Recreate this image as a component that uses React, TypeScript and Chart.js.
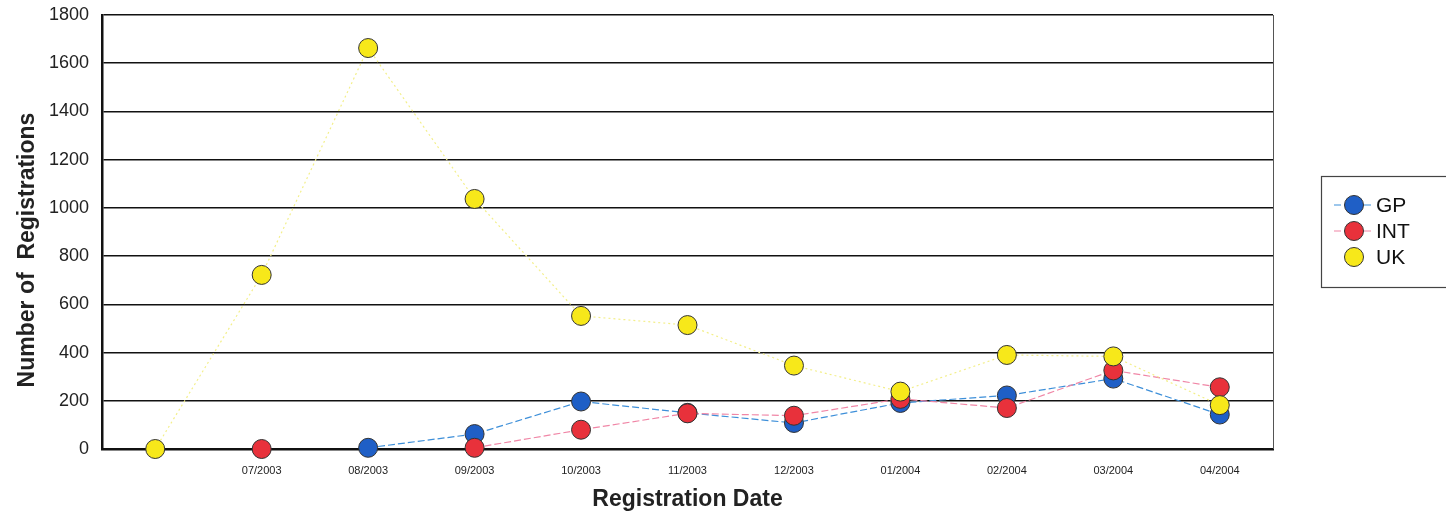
import React, { useEffect, useRef } from "react";
import { Chart, registerables } from "chart.js";

Chart.register(...registerables);

const categories = ["", "07/2003", "08/2003", "09/2003", "10/2003", "11/2003", "12/2003", "01/2004", "02/2004", "03/2004", "04/2004"];
const gpValues = [null, null, 5, 62, 197, 150, 108, 191, 222, 292, 143];
const intValues = [null, 0, null, 5, 80, 148, 138, 208, 170, 326, 256];
const ukValues = [0, 722, 1663, 1037, 552, 514, 346, 238, 390, 384, 182];
const yTicks = [0, 200, 400, 600, 800, 1000, 1200, 1400, 1600, 1800];
const yTitle = "Number of  Registrations";
const xTitle = "Registration Date";

const FONT = 'Arial, "Liberation Sans", sans-serif';

const legendBox = {
  id: "legendBox",
  afterDraw(chart: any) {
    const ctx = chart.ctx;
    const area = chart.chartArea;
    const left = area.right + 48;
    const top = area.top + 161;
    const w = chart.width - left + 2;
    const h = 111;
    ctx.save();
    ctx.strokeStyle = "#444";
    ctx.lineWidth = 1.2;
    ctx.strokeRect(left + 0.5, top + 0.5, w, h);
    const cx = left + 33;
    chart.data.datasets.forEach((ds: any, i: number) => {
      const cy = top + 29 + i * 26;
      if (ds.showLegendLine) {
        ctx.beginPath();
        ctx.strokeStyle = ds.borderColor;
        ctx.lineWidth = 1.2;
        ctx.setLineDash(ds.borderDash || []);
        ctx.moveTo(cx - 20, cy);
        ctx.lineTo(cx + 20, cy);
        ctx.stroke();
        ctx.setLineDash([]);
      }
      ctx.beginPath();
      ctx.arc(cx, cy, 9.5, 0, Math.PI * 2);
      ctx.fillStyle = ds.pointBackgroundColor;
      ctx.fill();
      ctx.strokeStyle = "#333";
      ctx.lineWidth = 1;
      ctx.stroke();
      ctx.fillStyle = "#111";
      ctx.font = "21px " + FONT;
      ctx.textBaseline = "middle";
      ctx.textAlign = "left";
      ctx.fillText(ds.label, cx + 22, cy + 1);
    });
    // right border of plot
    ctx.strokeStyle = "#555";
    ctx.lineWidth = 1;
    ctx.beginPath();
    ctx.moveTo(area.right + 0.5, area.top);
    ctx.lineTo(area.right + 0.5, area.bottom);
    ctx.stroke();
    // y axis title
    ctx.save();
    ctx.translate(28, (area.top + area.bottom) / 2 + 18);
    ctx.rotate(-Math.PI / 2);
    ctx.font = "bold 23px " + FONT;
    ctx.fillStyle = "#222";
    ctx.textAlign = "center";
    ctx.textBaseline = "middle";
    ctx.fillText(yTitle, 0, 0);
    ctx.restore();
    ctx.restore();
  },
};

export default function App() {
  const ref = useRef<HTMLCanvasElement>(null);
  useEffect(() => {
    const common = {
      borderWidth: 1.2,
      pointRadius: 9.5,
      pointBorderColor: "#333",
      pointBorderWidth: 1,
      clip: false,
    };
    const c = new Chart(ref.current!, {
      type: "line",
      data: {
        labels: categories,
        datasets: [
          {
            ...common,
            label: "GP",
            data: gpValues,
            borderColor: "#3d8fd9",
            borderDash: [7, 3],
            pointBackgroundColor: "#1f5fc6",
            order: 3,
            showLegendLine: true,
          } as any,
          {
            ...common,
            label: "INT",
            data: intValues,
            borderColor: "#f086a6",
            borderDash: [7, 3],
            pointBackgroundColor: "#e8313b",
            order: 2,
            showLegendLine: true,
          } as any,
          {
            ...common,
            label: "UK",
            data: ukValues,
            borderColor: "#f3ef8a",
            borderDash: [2, 3],
            pointBackgroundColor: "#f7e81a",
            order: 1,
            showLegendLine: false,
          } as any,
        ],
      },
      options: {
        responsive: false,
        animation: false,
        spanGaps: false,
        layout: { padding: { left: 0, top: 15, right: 173, bottom: 0 } },
        plugins: { legend: { display: false }, tooltip: { enabled: false } },
        scales: {
          x: {
            offset: true,
            grid: { display: false, drawTicks: false },
            border: { display: true, color: "#111", width: 2.5 },
            ticks: { font: { size: 11, family: FONT }, color: "#222", padding: 15, maxRotation: 0, autoSkip: false },
            title: { display: true, text: xTitle, font: { size: 23, weight: "bold", family: FONT }, color: "#222", padding: { top: 4, bottom: 3 } },
            afterFit: (s: any) => { s.height = 67; s.paddingLeft = 0; s.paddingRight = 0; },
          },
          y: {
            min: 0,
            max: 1800,
            afterBuildTicks: (s: any) => { s.ticks = yTicks.map((v) => ({ value: v })); },
            grid: { color: "#111", lineWidth: 1.6, drawTicks: false },
            border: { display: true, color: "#111", width: 2.5 },
            ticks: { font: { size: 18, family: FONT }, color: "#222", padding: 13, callback: (v: any) => String(v) },
            title: { display: false },
            afterFit: (s: any) => { s.width = 102; s.paddingTop = 0; s.paddingBottom = 0; },
          },
        },
      } as any,
      plugins: [legendBox],
    });
    return () => c.destroy();
  }, []);
  return (
    <div style={{ position: "fixed", left: 0, top: 0, width: 1446, height: 516, background: "#fff" }}>
      <canvas ref={ref} width={1446} height={516} style={{ width: 1446, height: 516 }} />
    </div>
  );
}
